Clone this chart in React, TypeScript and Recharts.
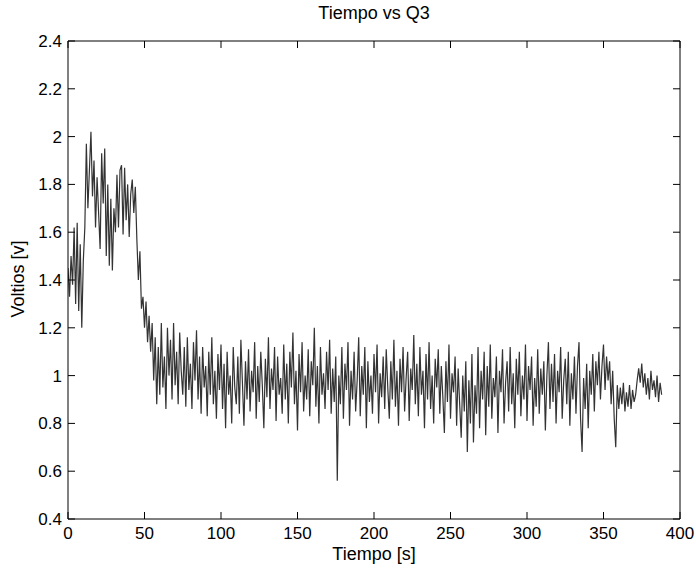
import React from 'react';
import { LineChart, Line, XAxis, YAxis } from 'recharts';

// Q3 voltage, one reading per second, starting at t = 0 s
const q3Arranque = [
  1.45, 1.33, 1.5, 1.38, 1.62, 1.3, 1.64, 1.27, 1.55, 1.2,
  1.48, 1.62, 1.97, 1.7, 1.86, 2.02, 1.75, 1.9, 1.62, 1.83,
  1.68, 1.53, 1.93, 1.72, 1.95, 1.5, 1.8, 1.46, 1.74, 1.44,
  1.7, 1.6, 1.84, 1.62, 1.86, 1.88, 1.59, 1.87, 1.65, 1.8,
  1.58, 1.76, 1.82, 1.68, 1.79, 1.57, 1.4, 1.52, 1.28, 1.33,
  1.2, 1.31, 1.14, 1.25, 1.1, 1.22, 0.98, 1.16, 0.88, 1.12,
  0.92,
];

const q3Caida = [
  1.22, 0.95, 1.08, 0.86, 1.2, 1.0, 1.15, 0.9, 1.22, 0.96,
  1.1, 0.88, 1.18, 1.02, 0.92, 1.12, 0.87, 1.16, 0.94, 1.05,
  0.86, 1.14, 0.98, 1.19, 0.9, 1.08, 0.84, 1.12, 0.95, 1.04,
  0.83, 1.1, 0.92, 1.16, 0.88, 1.02, 0.82, 1.09, 0.94, 1.13,
];

const q3Medio = [
  0.86, 1.05, 0.78, 1.1, 0.92, 1.0, 0.8, 1.12, 0.95, 0.88,
  1.08, 0.84, 1.15, 0.97, 0.79, 1.06, 0.9, 1.11, 0.85, 1.02,
  0.93, 1.14, 0.82, 1.04, 0.89, 1.1, 0.96, 0.78, 1.07, 0.91,
  1.16, 0.86, 1.03, 0.94, 1.12, 0.81, 1.08, 0.92, 0.99, 0.84,
  1.13, 0.9, 1.05, 0.8, 1.1, 0.95, 1.18, 0.88, 1.02, 0.77,
  1.09, 0.93, 1.14, 0.85, 1.0, 0.9, 1.11, 0.83, 1.06, 0.96,
  1.2, 0.87, 1.04, 0.8, 1.12, 0.92, 1.01, 0.86, 1.1, 0.94,
  1.15, 0.84, 1.03, 0.89, 1.08, 0.56, 1.0, 0.88, 1.12,
  0.82, 1.05, 0.94, 1.14, 0.79, 1.02, 0.9, 1.1, 0.85, 0.98,
  1.16, 0.83, 1.04, 0.92, 1.12, 0.78, 1.06, 0.89, 1.0, 0.84,
  1.09, 0.93, 1.13, 0.8, 1.01, 0.91, 1.08, 0.86, 1.11, 0.95,
  0.82, 1.06, 0.9, 1.15, 0.87, 1.02, 0.79, 1.07, 0.93, 1.12,
  0.85, 0.99, 1.1, 0.81, 1.03, 0.94, 1.17, 0.88, 1.05, 0.83,
  1.12, 0.92, 1.02, 0.78, 1.09, 0.9, 1.14, 0.86, 1.0, 0.8,
  1.07, 0.95, 1.11, 0.84, 1.04, 0.91, 0.76, 1.06, 0.89, 1.13,
  0.82, 1.01, 0.93, 1.08, 0.79, 1.03, 0.88, 0.74, 1.0, 0.85,
  1.06, 0.68, 0.98, 0.8, 1.09, 0.72, 0.96, 0.84, 1.12, 0.78,
  1.02,
];

const q3Final = [
  0.9, 1.1, 0.75, 1.04, 0.87, 1.13, 0.82, 0.99, 0.91, 1.08,
  0.76, 1.02, 0.93, 1.11, 0.8, 0.97, 1.06, 0.85, 1.12, 0.88,
  1.01, 0.78, 1.07, 0.92, 1.1, 0.83, 1.0, 0.9, 1.13, 0.81,
  1.04, 0.94, 1.08, 0.79, 0.99, 0.87, 1.11, 0.84, 1.03, 0.92,
  1.06, 0.77, 1.0, 1.14, 0.86, 1.05, 0.89, 1.09, 0.8, 1.02,
  0.93, 1.12, 0.82, 0.98, 1.07, 0.88, 1.1, 0.79, 1.01, 0.9,
  1.08, 0.84, 1.04, 1.14, 0.82, 0.68, 0.99, 0.86, 1.05, 0.78,
  1.02, 0.92, 1.09, 0.85, 1.06, 0.96, 1.1, 0.9, 1.04, 1.13,
  0.94, 1.08, 0.98, 1.06, 0.88, 1.02, 0.82, 0.7, 0.96, 0.86,
  0.95, 0.88, 0.97, 0.85, 0.93, 0.87, 0.96, 0.86, 0.94, 0.89,
  0.92, 0.98, 1.03, 0.97, 1.05, 0.95, 1.01, 0.92, 0.99, 0.9,
  1.02, 0.94, 0.98, 0.91, 1.0, 0.89, 0.97, 0.92,
];

const voltios = [...q3Arranque, ...q3Caida, ...q3Medio, ...q3Final];
const xTicks = [0, 50, 100, 150, 200, 250, 300, 350, 400];
const yTicks = [0.4, 0.6, 0.8, 1, 1.2, 1.4, 1.6, 1.8, 2, 2.2, 2.4];

const data = voltios.map((v, i) => ({ t: i, v }));

const font = '"Liberation Sans", Arial, Helvetica, sans-serif';
const tickStyle = { fontSize: 17, fill: '#000', fontFamily: font };
const axisLine = { stroke: '#000', strokeWidth: 1 };
const noLabel = () => <g />;

export default function App() {
  return (
    <div style={{ position: 'absolute', left: 0, top: 0, width: 696, height: 570, background: '#fff', fontFamily: font, color: '#000' }}>
      <div style={{ position: 'absolute', left: 274, top: 4, width: 200, textAlign: 'center', fontSize: 18, lineHeight: '18px' }}>
        Tiempo vs Q3
      </div>
      <div style={{ position: 'absolute', left: 274, top: 545, width: 200, textAlign: 'center', fontSize: 18, lineHeight: '18px' }}>
        Tiempo [s]
      </div>
      <div style={{ position: 'absolute', left: 18 - 100, top: 279 - 9, width: 200, textAlign: 'center', fontSize: 18, lineHeight: '18px', transform: 'rotate(-90deg)' }}>
        Voltios [v]
      </div>
      <LineChart width={696} height={570} data={data} margin={{ top: 40, right: 15, bottom: 21, left: 8 }}>
        <XAxis
          dataKey="t"
          type="number"
          domain={[0, 400]}
          ticks={xTicks}
          allowDataOverflow
          height={30}
          tickSize={-7}
          tickMargin={15}
          tick={tickStyle}
          axisLine={axisLine}
          tickLine={axisLine}
        />
        <XAxis
          xAxisId="top"
          orientation="top"
          dataKey="t"
          type="number"
          domain={[0, 400]}
          ticks={xTicks}
          allowDataOverflow
          height={1}
          tickSize={-7}
          tick={noLabel}
          axisLine={axisLine}
          tickLine={axisLine}
        />
        <YAxis
          type="number"
          domain={[0.4, 2.4]}
          ticks={yTicks}
          allowDataOverflow
          width={60}
          tickSize={-7}
          tickMargin={13}
          tick={tickStyle}
          axisLine={axisLine}
          tickLine={axisLine}
        />
        <YAxis
          yAxisId="right"
          orientation="right"
          type="number"
          domain={[0.4, 2.4]}
          ticks={yTicks}
          allowDataOverflow
          width={1}
          tickSize={-7}
          tick={noLabel}
          axisLine={axisLine}
          tickLine={axisLine}
        />
        <Line
          xAxisId="top"
          yAxisId="right"
          dataKey="v"
          stroke="none"
          dot={false}
          activeDot={false}
          legendType="none"
          isAnimationActive={false}
        />
        <Line
          dataKey="v"
          type="linear"
          stroke="#333"
          strokeWidth={1.2}
          dot={false}
          isAnimationActive={false}
        />
      </LineChart>
    </div>
  );
}
